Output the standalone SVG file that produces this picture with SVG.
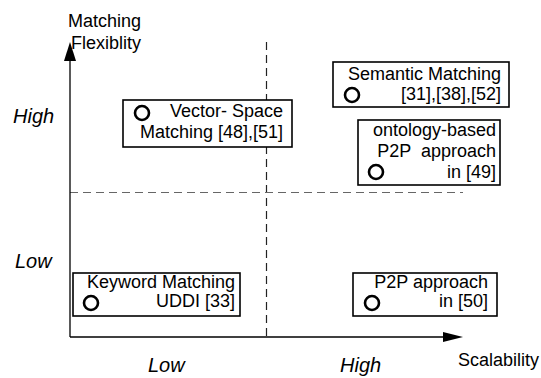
<svg xmlns="http://www.w3.org/2000/svg" width="541" height="378" viewBox="0 0 541 378">
<style>
text{font-family:"Liberation Sans",Arial,sans-serif;font-size:18px;fill:#000}
.it{font-style:italic;font-size:20px}
.box{fill:#fff;stroke:#000;stroke-width:1.6}
.dot{fill:none;stroke:#000;stroke-width:2.6}
.axis{stroke:#000;stroke-width:1.3;fill:none}
.dash{stroke-width:1.2;fill:none;stroke-dasharray:8 5}
</style>
<rect width="541" height="378" fill="#fff"/>
<g id="connectors">
<line class="dash" x1="266.5" y1="42" x2="266.5" y2="337" stroke="#222"/>
<line class="dash" x1="70" y1="192.5" x2="463" y2="192.5" stroke="#666"/>
<line class="axis" x1="70" y1="337" x2="70" y2="60"/>
<polygon points="70,42 64,61 76,61" fill="#000"/>
<line class="axis" x1="70" y1="337" x2="445" y2="337"/>
<polygon points="463,337 443,332 443,342" fill="#000"/>
</g>
<g id="axis-labels">
<text x="68" y="27">Matching</text>
<text x="71" y="49">Flexiblity</text>
<text x="458" y="366">Scalability</text>
<text class="it" x="13" y="123">High</text>
<text class="it" x="15" y="268">Low</text>
<text class="it" x="148" y="372">Low</text>
<text class="it" x="340" y="372">High</text>
</g>
<g id="vector-space">
<rect class="box" x="123" y="100" width="169" height="47"/>
<circle class="dot" cx="142" cy="113" r="7"/>
<text x="283" y="117" text-anchor="end">Vector- Space</text>
<text x="283" y="138" text-anchor="end">Matching [48],[51]</text>
</g>
<g id="semantic">
<rect class="box" x="333" y="62" width="176" height="45"/>
<circle class="dot" cx="352" cy="95" r="7"/>
<text x="501" y="80" text-anchor="end">Semantic Matching</text>
<text x="501" y="100" text-anchor="end">[31],[38],[52]</text>
</g>
<g id="ontology">
<rect class="box" x="358" y="120" width="142" height="65"/>
<circle class="dot" cx="376" cy="172" r="7"/>
<text x="496" y="136" text-anchor="end">ontology-based</text>
<text x="496" y="157" text-anchor="end" xml:space="preserve">P2P  approach</text>
<text x="496" y="178" text-anchor="end">in [49]</text>
</g>
<g id="keyword">
<rect class="box" x="73" y="273" width="167" height="43"/>
<circle class="dot" cx="91" cy="303" r="7"/>
<text x="235" y="288" text-anchor="end">Keyword Matching</text>
<text x="235" y="307" text-anchor="end">UDDI [33]</text>
</g>
<g id="p2p">
<rect class="box" x="353" y="273" width="144" height="43"/>
<circle class="dot" cx="372" cy="303" r="7"/>
<text x="488" y="288" text-anchor="end">P2P approach</text>
<text x="488" y="307" text-anchor="end">in [50]</text>
</g>
</svg>
